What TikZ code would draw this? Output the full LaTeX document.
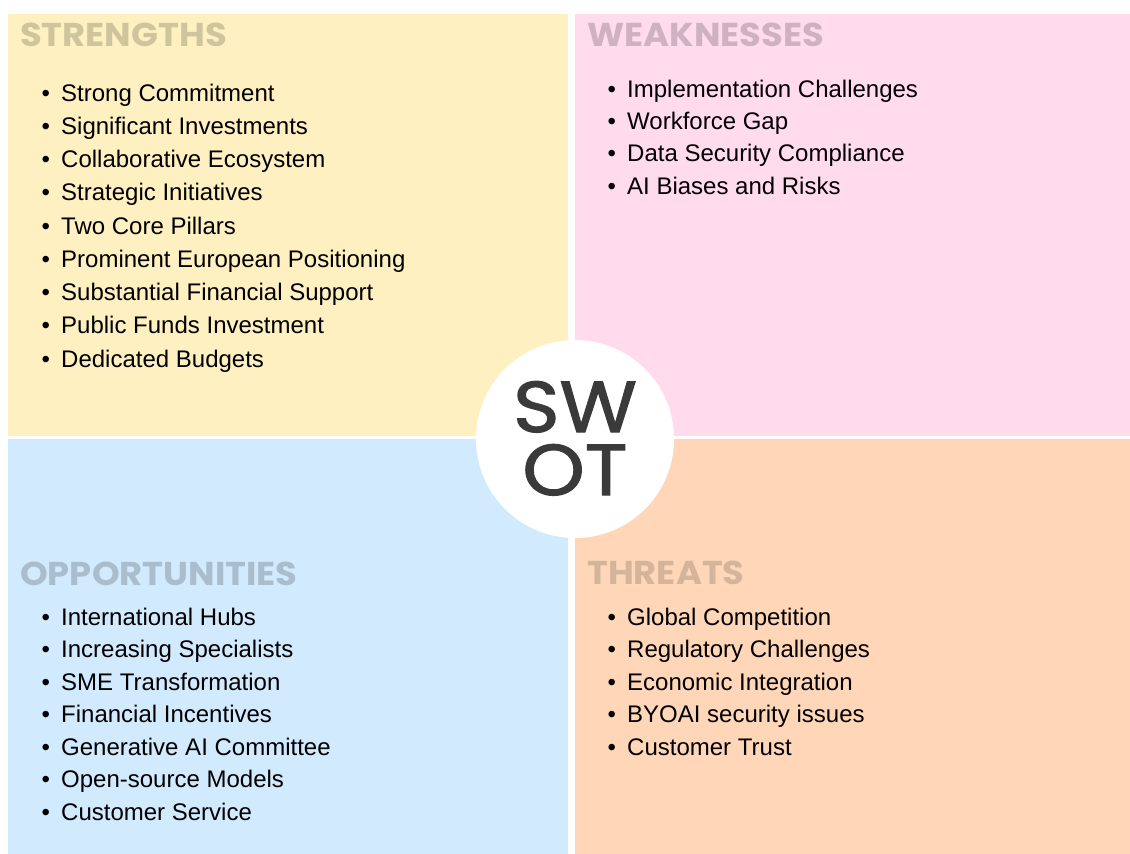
\documentclass[tikz,border=0pt]{standalone}
\usepackage{fontspec}
\setmainfont{Liberation Sans}
\newfontfamily\hfont{Poppins}
\newfontfamily\mfont{Poppins}[FakeBold=1.6]
\definecolor{cyel}{HTML}{FFF0C1}
\definecolor{cpink}{HTML}{FFDBEC}
\definecolor{cblue}{HTML}{D2EAFE}
\definecolor{cpeach}{HTML}{FFD7B8}
\definecolor{hyel}{HTML}{CEC59D}
\definecolor{hpink}{HTML}{CFB2C2}
\definecolor{hblue}{HTML}{AABDCC}
\definecolor{hpeach}{HTML}{D4B49B}
\definecolor{swotc}{HTML}{3A3A3A}
\tikzset{
  head/.style={anchor=base west, inner sep=0pt, font=\hfont\bfseries\fontsize{33}{33}\selectfont},
  item/.style={anchor=base west, inner sep=0pt, font=\fontsize{24}{26}\selectfont},
  swot/.style={anchor=base, inner sep=0pt, align=center, text=swotc, font=\mfont\fontsize{72}{63}\selectfont},
}
\newcommand{\bul}{\makebox[20pt][l]{\hspace{0.5pt}\textbullet}}
\newcommand{\hx}[1]{\scalebox{1.07}[1]{#1}}
\begin{document}
\begin{tikzpicture}[x=1pt,y=-1pt]
\useasboundingbox (0,0) rectangle (1130,854);
\fill[white] (0,0) rectangle (1130,854);
\fill[cyel] (8,14) rectangle (568,436);
\fill[cpink] (575,14) rectangle (1130,436);
\fill[cblue] (8,439) rectangle (568,854);
\fill[cpeach] (575,439) rectangle (1130,854);
\node[head, text=hyel] (hs) at (20,46) {\hx{STRENGTHS}};
\node[head, text=hpink] (hw) at (587,46) {\hx{WEAKNESSES}};
\node[head, text=hblue] (ho) at (20,585) {\hx{OPPORTUNITIES}};
\node[head, text=hpeach] (ht) at (587,584) {\hx{THREATS}};
\foreach [count=\i] \t in {Strong Commitment, Significant Investments, Collaborative Ecosystem, Strategic Initiatives, Two Core Pillars, Prominent European Positioning, Substantial Financial Support, Public Funds Investment, Dedicated Budgets}
  \node[item] (s\i) at (41,{101+33.25*(\i-1)}) {\bul\t};
\foreach [count=\i] \t in {Implementation Challenges, Workforce Gap, Data Security Compliance, AI Biases and Risks}
  \node[item] (w\i) at (607,{97+32.4*(\i-1)}) {\bul\t};
\foreach [count=\i] \t in {International Hubs, Increasing Specialists, SME Transformation, Financial Incentives, Generative AI Committee, Open-source Models, Customer Service}
  \node[item] (o\i) at (41,{625+32.5*(\i-1)}) {\bul\t};
\foreach [count=\i] \t in {Global Competition, Regulatory Challenges, Economic Integration, BYOAI security issues, Customer Trust}
  \node[item] (t\i) at (607,{625+32.5*(\i-1)}) {\bul\t};
\fill[white] (575,439) circle (99);
\node[swot] (sw) at (575,495) {\scalebox{1.1}[1]{SW}\\\scalebox{1.1}[1]{OT}};
\end{tikzpicture}
\end{document}
